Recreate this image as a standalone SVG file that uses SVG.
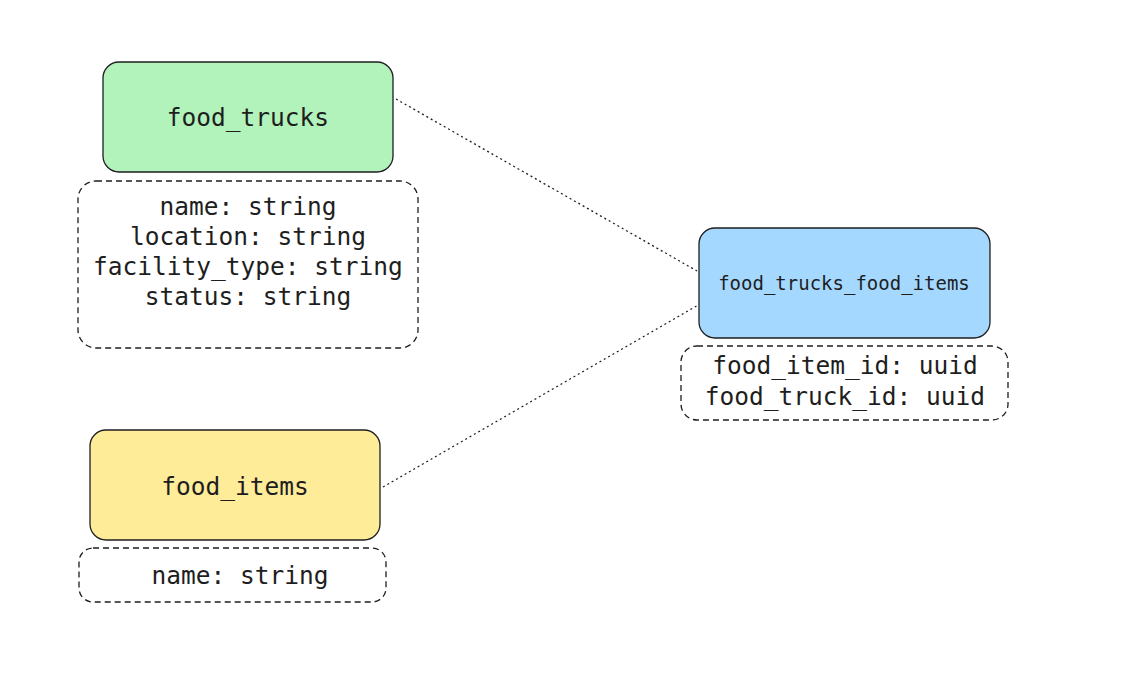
<svg xmlns="http://www.w3.org/2000/svg" width="1132" height="682" viewBox="0 0 1132 682">
<style>
.box{stroke:#1e1e1e;stroke-width:1.3}
.attr{fill:none;stroke:#1e1e1e;stroke-width:1.3;stroke-dasharray:6 4}
.t{font-family:"DejaVu Sans Mono","Liberation Mono",monospace;font-size:24.5px;fill:#1e1e1e;text-anchor:middle}
.conn{stroke:#1e1e1e;stroke-width:1.3;stroke-dasharray:2 3;fill:none}
</style>
<rect width="1132" height="682" fill="#ffffff"/>
<g id="connectors">
<line class="conn" x1="396" y1="99" x2="697" y2="271"/>
<line class="conn" x1="383" y1="487" x2="700" y2="304"/>
</g>
<g id="food_trucks">
<rect class="box" x="103" y="62" width="290" height="110" rx="16" fill="#b2f2bb"/>
<text class="t" x="248" y="126">food_trucks</text>
</g>
<g id="food_trucks_attrs">
<rect class="attr" x="78" y="181" width="340" height="167" rx="18"/>
<text class="t" x="248" y="215">name: string</text>
<text class="t" x="248" y="245">location: string</text>
<text class="t" x="248" y="275">facility_type: string</text>
<text class="t" x="248" y="305">status: string</text>
</g>
<g id="food_trucks_food_items">
<rect class="box" x="699" y="228" width="291" height="110" rx="16" fill="#a5d8ff"/>
<text class="t" x="844" y="290" style="font-size:19px">food_trucks_food_items</text>
</g>
<g id="join_attrs">
<rect class="attr" x="681" y="346" width="327" height="74" rx="16"/>
<text class="t" x="845" y="374">food_item_id: uuid</text>
<text class="t" x="845" y="405">food_truck_id: uuid</text>
</g>
<g id="food_items">
<rect class="box" x="90" y="430" width="290" height="110" rx="16" fill="#ffec99"/>
<text class="t" x="235" y="495">food_items</text>
</g>
<g id="food_items_attrs">
<rect class="attr" x="79" y="548" width="307" height="54" rx="14"/>
<text class="t" x="240" y="584">name: string</text>
</g>
</svg>
